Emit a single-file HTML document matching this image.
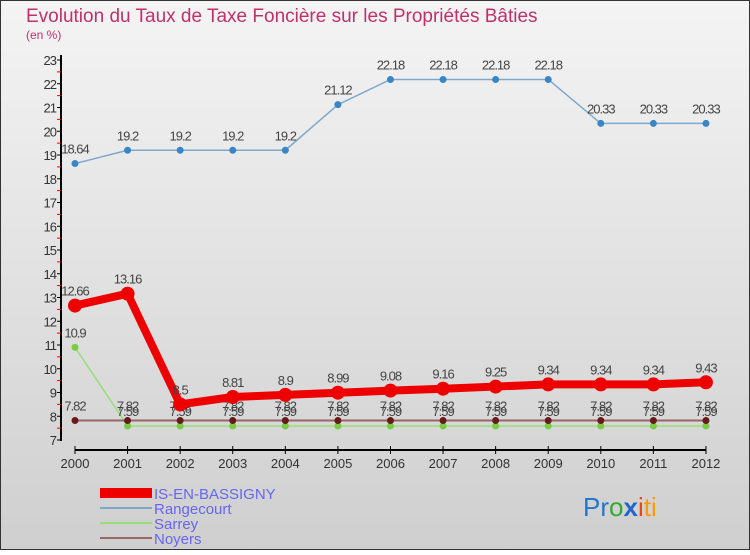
<!DOCTYPE html>
<html><head><meta charset="utf-8"><style>
body{margin:0;width:750px;height:550px;overflow:hidden;font-family:"Liberation Sans",sans-serif}
</style></head><body>
<svg id="c" width="750" height="550" xmlns="http://www.w3.org/2000/svg" font-family="Liberation Sans,sans-serif">
<defs><linearGradient id="bg" x1="0" y1="0" x2="0" y2="1"><stop offset="0" stop-color="#f4f4f4"/><stop offset="1" stop-color="#cfcfcf"/></linearGradient></defs>
<rect x="0.5" y="0.5" width="749" height="549" fill="url(#bg)" stroke="#333"/>
<text x="26" y="22" font-size="19" fill="#c0306a">Evolution du Taux de Taxe Foncière sur les Propriétés Bâties</text>
<text x="26" y="39" font-size="12" fill="#c0306a">(en %)</text>
<g id="axes"></g><g id="series"></g>
<g font-size="15" fill="#6666ee">
<rect x="100" y="488" width="52" height="10" fill="#e00"/><text x="154" y="499">IS-EN-BASSIGNY</text>
<line x1="100" y1="508" x2="152" y2="508" stroke="#7fa8cc" stroke-width="2"/><text x="154" y="514">Rangecourt</text>
<line x1="100" y1="523" x2="152" y2="523" stroke="#99dd77" stroke-width="2"/><text x="154" y="529">Sarrey</text>
<line x1="100" y1="538" x2="152" y2="538" stroke="#996666" stroke-width="2"/><text x="154" y="544">Noyers</text>
</g>
<g font-size="26"><text x="583" y="516"><tspan fill="#2277cc">Pr</tspan><tspan fill="#33aa33">o</tspan><tspan fill="#2266cc" font-weight="bold">x</tspan><tspan fill="#ee4411">i</tspan><tspan fill="#ff9900">ti</tspan></text></g>
</svg>
<script>
const years=[2000,2001,2002,2003,2004,2005,2006,2007,2008,2009,2010,2011,2012];
const main=[12.66,13.16,8.5,8.81,8.9,8.99,9.08,9.16,9.25,9.34,9.34,9.34,9.43];
const rangecourt=[18.64,19.2,19.2,19.2,19.2,21.12,22.18,22.18,22.18,22.18,20.33,20.33,20.33];
const sarrey=[10.9,7.59,7.59,7.59,7.59,7.59,7.59,7.59,7.59,7.59,7.59,7.59,7.59];
const noyers=[7.82,7.82,7.82,7.82,7.82,7.82,7.82,7.82,7.82,7.82,7.82,7.82,7.82];
const yTicks=[7,8,9,10,11,12,13,14,15,16,17,18,19,20,21,22,23];
const NS='http://www.w3.org/2000/svg';
const X=i=>75+i*52.58, Y=v=>440-(v-7)*23.75;
function mk(p,t,a){const e=document.createElementNS(NS,t);for(const k in a)e.setAttribute(k,a[k]);p.appendChild(e);return e;}
const ax=document.getElementById('axes'),sg=document.getElementById('series');
mk(ax,'line',{x1:61,y1:55,x2:61,y2:441,stroke:'#000','stroke-width':2});
mk(ax,'line',{x1:75,y1:450,x2:706,y2:450,stroke:'#000','stroke-width':2});
yTicks.forEach(v=>{
 mk(ax,'line',{x1:57,y1:Y(v),x2:61,y2:Y(v),stroke:'#000'});
 if(v<23) mk(ax,'line',{x1:57,y1:Y(v+0.5),x2:61,y2:Y(v+0.5),stroke:'#e00'});
 const t=mk(ax,'text',{x:56,y:Y(v)+5,'text-anchor':'end','font-size':13,fill:'#333','letter-spacing':'-1'});
 
 
 t.textContent=v;
});
years.forEach((y,i)=>{
 mk(ax,'line',{x1:X(i),y1:446,x2:X(i),y2:454,stroke:'#000'});
 const t=mk(ax,'text',{x:X(i),y:468,'text-anchor':'middle','font-size':13,fill:'#333'});
 
 
 t.textContent=y;
});
function series(name,vals,col,w,r,fill){
 const g=mk(sg,'g',{});
 
 
 mk(g,'polyline',{points:vals.map((v,i)=>X(i)+','+Y(v)).join(' '),fill:'none',stroke:col,'stroke-width':w,'stroke-linejoin':'round'});
 vals.forEach((v,i)=>{
  const c=mk(g,'circle',{cx:X(i),cy:Y(v),r:r,fill:fill});
  
  
  const t=mk(g,'text',{x:X(i),y:Y(v)-10,'text-anchor':'middle','font-size':13,fill:'#444','letter-spacing':'-1'});
  
  
  t.textContent=v;
 });
}
series('rangecourt',rangecourt,'#7fa8cc',1.5,3.5,'#3a86c4');
series('sarrey',sarrey,'#99dd77',1.5,3.5,'#77cc44');
series('noyers',noyers,'#996666',2,3.5,'#661a1a');
series('main',main,'#e00',8,7,'#e00');
</script>
</body></html>
